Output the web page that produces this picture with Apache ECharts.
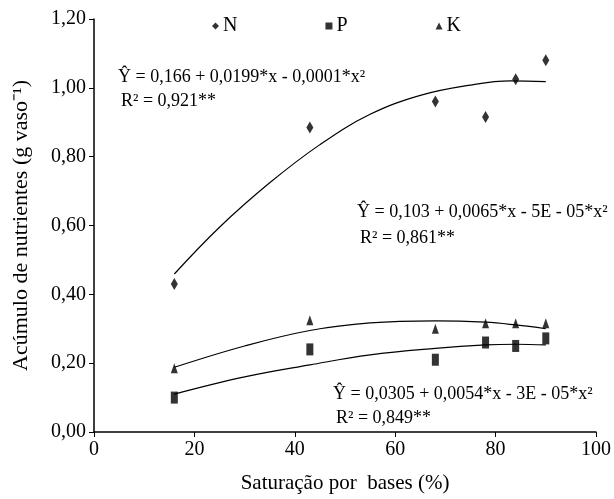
<!DOCTYPE html>
<html lang="pt">
  <head>
    <meta charset="UTF-8" />
    <title>Acúmulo de nutrientes</title>
    <script src="https://cdn.jsdelivr.net/npm/echarts@6/dist/echarts.min.js"></script>
    <style>
      html, body { margin: 0; padding: 0; background: #fff; }
      #chart { width: 614px; height: 499px; }
    </style>
  </head>
  <body>
    <div id="chart"></div>
    <script>
      // observed points
      const saturation = [16, 43, 68, 78, 84, 90];
      const nValues = [0.43, 0.885, 0.96, 0.915, 1.025, 1.08];
      const pValues = [0.10, 0.24, 0.21, 0.26, 0.25, 0.272];
      const kValues = [0.185, 0.325, 0.30, 0.316, 0.316, 0.316];

      // fitted curves
      const nFitX = [16, 25, 35, 45, 55, 65, 75, 83, 90];
      const nFitY = [0.459, 0.595, 0.724, 0.835, 0.923, 0.978, 1.008, 1.02, 1.018];
      const kFitX = [16, 30, 43, 55, 68, 78, 84, 90];
      const kFitY = [0.188, 0.25, 0.295, 0.317, 0.323, 0.319, 0.311, 0.30];
      const pFitX = [16, 30, 43, 55, 68, 78, 84, 90];
      const pFitY = [0.11, 0.16, 0.195, 0.224, 0.243, 0.253, 0.255, 0.253];

      const seriesNames = ["N", "P", "K"];

      const font = "Liberation Serif";
      const zip = (xs, ys) => xs.map((x, i) => [x, ys[i]]);

      const chart = echarts.init(document.getElementById("chart"));

      function fitLine(xs, ys) {
        return {
          type: "line",
          data: zip(xs, ys),
          smooth: 0.4,
          showSymbol: false,
          silent: true,
          lineStyle: { color: "#000", width: 1.2 },
          z: 1,
        };
      }

      function eqText(x, y, text) {
        return {
          type: "text",
          x: x,
          y: y,
          style: {
            text: text,
            font: "18px " + font,
            fill: "#000",
            verticalAlign: "middle",
          },
        };
      }

      chart.setOption({
        animation: false,
        backgroundColor: "#fff",
        grid: { left: 94, right: 17, top: 19, bottom: 66 },
        legend: {
          data: [
            { name: "N", icon: "diamond" },
            { name: "P", icon: "rect" },
            { name: "K", icon: "triangle" },
          ],
          left: 207,
          top: 11,
          itemWidth: 7,
          itemHeight: 7,
          itemGap: 88,
          textStyle: { fontFamily: font, fontSize: 20, color: "#000", padding: [0, 0, 0, -1] },
        },
        xAxis: {
          type: "value",
          min: 0,
          max: 100,
          interval: 20,
          name: "Saturação por  bases (%)",
          nameLocation: "middle",
          nameGap: 41,
          nameTextStyle: { fontFamily: font, fontSize: 21, color: "#000" },
          axisLine: { lineStyle: { color: "#000", width: 1.5 } },
          axisTick: { show: true, length: 5, lineStyle: { color: "#000" } },
          axisLabel: { fontFamily: font, fontSize: 20, color: "#000", margin: 8 },
          splitLine: { show: false },
        },
        yAxis: {
          type: "value",
          min: 0,
          max: 1.2,
          interval: 0.2,
          name: "Acúmulo de nutrientes (g vaso⁻¹)",
          nameLocation: "middle",
          nameGap: 62,
          nameTextStyle: { fontFamily: font, fontSize: 22, color: "#000" },
          axisLine: { show: true, lineStyle: { color: "#000", width: 1.5 } },
          axisTick: { show: true, length: 5, lineStyle: { color: "#000" } },
          axisLabel: {
            fontFamily: font,
            fontSize: 20,
            color: "#000",
            margin: 8,
            formatter: (v) => v.toFixed(2).replace(".", ","),
          },
          splitLine: { show: false },
        },
        series: [
          {
            name: seriesNames[0],
            type: "scatter",
            data: zip(saturation, nValues),
            symbol: "diamond",
            symbolSize: [7, 12],
            itemStyle: { color: "#000" },
            z: 3,
          },
          {
            name: seriesNames[1],
            type: "scatter",
            data: zip(saturation, pValues),
            symbol: "rect",
            symbolSize: [7, 12],
            itemStyle: { color: "#000" },
            z: 3,
          },
          {
            name: seriesNames[2],
            type: "scatter",
            data: zip(saturation, kValues),
            symbol: "triangle",
            symbolSize: [7, 10],
            itemStyle: { color: "#000" },
            z: 3,
          },
          fitLine(nFitX, nFitY),
          fitLine(kFitX, kFitY),
          fitLine(pFitX, pFitY),
        ],
        graphic: [
          eqText(118, 77, "Ŷ = 0,166 + 0,0199*x - 0,0001*x²"),
          eqText(121, 101, "R² = 0,921**"),
          eqText(357, 212, "Ŷ = 0,103 + 0,0065*x - 5E - 05*x²"),
          eqText(360, 238, "R² = 0,861**"),
          eqText(333, 394, "Ŷ = 0,0305 + 0,0054*x - 3E - 05*x²"),
          eqText(336, 418, "R² = 0,849**"),
        ],
      });
    </script>
  </body>
</html>
